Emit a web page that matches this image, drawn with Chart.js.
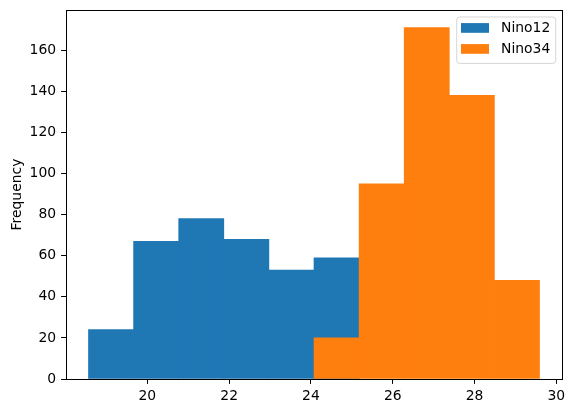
<!DOCTYPE html>
<html>
<head>
<meta charset="utf-8">
<script src="https://cdn.jsdelivr.net/npm/chart.js@4/dist/chart.umd.min.js"></script>
<style>
  html, body { margin: 0; padding: 0; background: #fff; }
  canvas { display: block; }
</style>
</head>
<body>
<canvas id="c" width="574" height="413"></canvas>
<script>
// ---- data ----
const binEdges = [18.56, 19.663, 20.766, 21.869, 22.972, 24.075, 25.178, 26.281, 27.384, 28.487, 29.59];
const seriesNames = ["Nino12", "Nino34"];
const nino12Counts = [24, 67, 78, 68, 53, 59, null, null, null, null];
const nino34Counts = [null, null, null, null, null, 20, 95, 171, 138, 48];
const xTickValues = [20, 22, 24, 26, 28, 30];
const yTickValues = [0, 20, 40, 60, 80, 100, 120, 140, 160];
const colors = ["#1f77b4", "#ff7f0e"];

function toPoints(counts) {
  const pts = [];
  counts.forEach((v, i) => {
    if (v !== null) pts.push({ x: (binEdges[i] + binEdges[i + 1]) / 2, y: v });
  });
  return pts;
}

const FONT = { family: "'DejaVu Sans', sans-serif", size: 13.9 };

const boxPlugin = {
  id: 'boxAndLegend',
  afterDraw(chart) {
    const ctx = chart.ctx;
    const a = chart.chartArea;
    ctx.save();
    ctx.strokeStyle = '#000';
    ctx.lineWidth = 1;
    const L = Math.round(a.left), T = Math.round(a.top), R = Math.round(a.right), B = Math.round(a.bottom);
    ctx.strokeRect(L + 0.5, T + 0.5, R - L, B - T);
    // legend
    const lw = 99, lh = 46.4;
    const lx = a.right - 6.3 - lw, ly = a.top + 7;
    const r = 3;
    ctx.beginPath();
    ctx.moveTo(lx + r, ly);
    ctx.lineTo(lx + lw - r, ly);
    ctx.arcTo(lx + lw, ly, lx + lw, ly + r, r);
    ctx.lineTo(lx + lw, ly + lh - r);
    ctx.arcTo(lx + lw, ly + lh, lx + lw - r, ly + lh, r);
    ctx.lineTo(lx + r, ly + lh);
    ctx.arcTo(lx, ly + lh, lx, ly + lh - r, r);
    ctx.lineTo(lx, ly + r);
    ctx.arcTo(lx, ly, lx + r, ly, r);
    ctx.closePath();
    ctx.fillStyle = 'rgba(255,255,255,0.8)';
    ctx.fill();
    ctx.strokeStyle = 'rgba(204,204,204,0.8)';
    ctx.stroke();
    ctx.font = FONT.size + "px " + FONT.family;
    ctx.textBaseline = 'middle';
    ctx.textAlign = 'left';
    seriesNames.forEach((name, i) => {
      const cy = ly + 11 + i * 21;
      ctx.fillStyle = colors[i];
      ctx.fillRect(lx + 4.3, cy - 4.9, 28, 9.7);
      ctx.fillStyle = '#000';
      ctx.fillText(name, lx + 44.3, cy);
    });
    ctx.restore();
  }
};

new Chart(document.getElementById('c'), {
  type: 'bar',
  data: {
    datasets: [
      { label: seriesNames[0], data: toPoints(nino12Counts), backgroundColor: colors[0], order: 1,
        grouped: false, barPercentage: 1, categoryPercentage: 1, borderWidth: 0 },
      { label: seriesNames[1], data: toPoints(nino34Counts), backgroundColor: colors[1], order: 0,
        grouped: false, barPercentage: 1, categoryPercentage: 1, borderWidth: 0 }
    ]
  },
  options: {
    responsive: false,
    animation: false,
    devicePixelRatio: 1,
    layout: { padding: { left: 0, top: 10, right: 12, bottom: 0 } },
    plugins: { legend: { display: false }, tooltip: { enabled: false } },
    scales: {
      x: {
        type: 'linear',
        min: 18.01,
        max: 30.14,
        offset: false,
        afterBuildTicks: s => { s.ticks = xTickValues.map(v => ({ value: v })); },
        afterFit: s => { s.height = 34; s.paddingLeft = 0; s.paddingRight = 0; },
        grid: { display: true, drawOnChartArea: false, offset: false, tickLength: 4.9, tickColor: '#000', tickWidth: 1 },
        border: { display: false },
        ticks: { color: '#000', font: FONT, padding: 4, maxRotation: 0, autoSkip: false }
      },
      y: {
        type: 'linear',
        min: 0,
        max: 179.55,
        afterBuildTicks: s => { s.ticks = yTickValues.map(v => ({ value: v })); },
        afterFit: s => { s.width = 66; s.paddingTop = 0; s.paddingBottom = 0; },
        grid: { display: true, drawOnChartArea: false, tickLength: 4.9, tickColor: '#000', tickWidth: 1 },
        border: { display: false },
        ticks: { color: '#000', font: FONT, padding: 5, autoSkip: false },
        title: { display: true, text: 'Frequency', color: '#000', font: FONT, padding: { top: 9, bottom: 0 } }
      }
    }
  },
  plugins: [boxPlugin]
});
</script>
</body>
</html>
